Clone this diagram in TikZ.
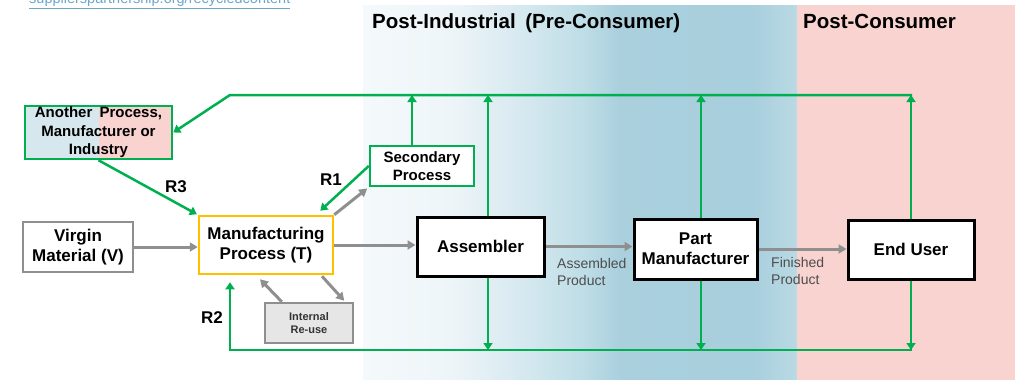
\documentclass[tikz,border=0pt]{standalone}
\usepackage{fontspec}
\setmainfont{Liberation Sans}
\usetikzlibrary{arrows.meta,calc}
\definecolor{gr}{HTML}{00B050}
\definecolor{grayc}{HTML}{8F8F8F}
\definecolor{yel}{HTML}{FFC000}
\definecolor{pinkc}{HTML}{F8D3D0}
\definecolor{blueh}{HTML}{D6E8EE}
\definecolor{linkc}{HTML}{6CA6C9}
\definecolor{lblc}{HTML}{4D4D4D}
\definecolor{reusefill}{HTML}{E6E6E6}
\definecolor{ga}{HTML}{F4F9FB}
\definecolor{gb}{HTML}{EEF5F8}
\definecolor{gc}{HTML}{D4E8EF}
\definecolor{gd}{HTML}{BEDDE6}
\definecolor{ge}{HTML}{AAD0DE}
\definecolor{gf}{HTML}{A8CFDD}
\definecolor{gg}{HTML}{BADAE4}
\pgfdeclarehorizontalshading{postind}{100bp}{color(0bp)=(ga); color(25bp)=(ga); color(35bp)=(gb); color(44bp)=(gc); color(50.5bp)=(gd); color(54.5bp)=(ge); color(70bp)=(gf); color(75bp)=(gg); color(100bp)=(gg)}
\begin{document}
\begin{tikzpicture}[x=1pt,y=-1pt,
  box/.style={draw, line width=2.5pt, fill=white, rectangle, inner sep=0pt, align=center,
    font=\fontsize{17}{20}\selectfont\bfseries},
  garrow/.style={gr, line width=2.5pt, -{Triangle[width=9pt,length=7pt]}},
  grayarrow/.style={grayc, line width=3pt, -{Triangle[width=9pt,length=8pt]}},
  rlabel/.style={font=\fontsize{17}{20}\selectfont\bfseries, inner sep=0pt},
  title/.style={font=\fontsize{20.5}{24}\selectfont\bfseries, inner sep=0pt, anchor=base west},
  prodlbl/.style={font=\fontsize{14}{17}\selectfont, text=lblc, align=left, inner sep=0pt, anchor=west}
]
\useasboundingbox (0,0) rectangle (1015,380);
% background zones
\shade[shading=postind] (363,5) rectangle (797,380);
\fill[pinkc] (797,5) rectangle (1015,380);

% link text
\node[font=\fontsize{14.5}{17}\selectfont, text=linkc, anchor=base west, inner sep=0pt] (link) at (29,4) {\underline{supplierspartnership.org/recycledcontent}};

% titles
\node[title] (t1) at (372,28) {Post-Industrial\hspace{4pt} (Pre-Consumer)};
\node[title] (t2) at (803,28) {Post-Consumer};

% nodes
\node[box, draw=gr, minimum width=147pt, minimum height=53pt,
  font=\fontsize{15}{18.5}\selectfont\bfseries,
  path picture={
    \fill[blueh] (path picture bounding box.south west) rectangle (path picture bounding box.north);
    \fill[pinkc] (path picture bounding box.south) rectangle (path picture bounding box.north east);
  }] (another) at (98.5,132.5) {Another\hspace{3pt} Process,\\Manufacturer or\\Industry};
\node[box, draw=grayc, minimum width=110pt, minimum height=50pt] (virgin) at (78,247) {Virgin\\Material (V)};
\node[box, draw=yel, minimum width=134pt, minimum height=58pt] (mfg) at (266,245) {Manufacturing\\Process (T)};
\node[box, draw=gr, minimum width=104pt, minimum height=40pt,
  font=\fontsize{15}{18.5}\selectfont\bfseries] (sec) at (422,166) {Secondary\\Process};
\node[box, draw=grayc, fill=reusefill, minimum width=88pt, minimum height=40pt,
  font=\fontsize{11}{13}\selectfont\bfseries, text=black!80] (reuse) at (309,323) {Internal\\Re-use};
\node[box, draw=black, line width=3pt, minimum width=127pt, minimum height=59pt] (asm) at (480.5,246.5) {Assembler};
\node[box, draw=black, line width=3pt, minimum width=123pt, minimum height=60pt] (part) at (695.5,249) {Part\\Manufacturer};
\node[box, draw=black, line width=3pt, minimum width=126pt, minimum height=59pt] (end) at (911,249.5) {End User};

% product labels
\node[prodlbl] (aprod) at (557,271.5) {Assembled\\Product};
\node[prodlbl] (fprod) at (771,270.5) {Finished\\Product};

% R labels
\node[rlabel] (r3) at (176,187) {R3};
\node[rlabel] (r1) at (331,180) {R1};
\node[rlabel] (r2) at (212,318) {R2};

% bus coordinates
\coordinate (tl) at (230,95);
\coordinate (tr) at (912,95);
\coordinate (bl) at (230,350);
\coordinate (br) at (912,350);
\coordinate (ua) at (412,95);
\coordinate (ub) at (488,95);
\coordinate (uc) at (701,95);
\coordinate (ud) at (911,95);
\coordinate (da) at (488,350);
\coordinate (db) at (701,350);
\coordinate (dc) at (911,350);

% gray flow arrows
\draw[grayarrow] (virgin.east) -- (virgin.east -| mfg.west);
\draw[grayarrow] (mfg.east) -- (mfg.east -| asm.west);
\draw[grayarrow] (asm.east) -- (asm.east -| part.west);
\draw[grayarrow] (part.east) -- (part.east -| end.west);
\draw[grayarrow, shorten >=2pt] (mfg.north east) -- (sec.south west);
\draw[grayarrow] ($(reuse.north west)+(18,0)$) -- ($(mfg.south)+(-6,4)$);
\draw[grayarrow] ($(mfg.south)+(56,1)$) -- ($(reuse.north east)+(-10,-1)$);

% green recycling lines
\draw[garrow] (tr) -- (tl) -- (another.east);
\draw[garrow] (sec.north -| ua) -- (ua);
\draw[garrow] (asm.north -| ub) -- (ub);
\draw[garrow] (part.north -| uc) -- (uc);
\draw[garrow] (end.north -| ud) -- (ud);
\draw[garrow] (asm.south -| da) -- (da);
\draw[garrow] (part.south -| db) -- (db);
\draw[garrow] (end.south -| dc) -- (dc);
\draw[garrow, shorten >=7pt] (br) -- (bl) -- (bl |- mfg.south);
\draw[garrow, shorten >=1pt] (another.south) -- (mfg.north west);
\draw[garrow] (sec.west) -- ($(mfg.north east)+(-14,-4)$);
\end{tikzpicture}
\end{document}
